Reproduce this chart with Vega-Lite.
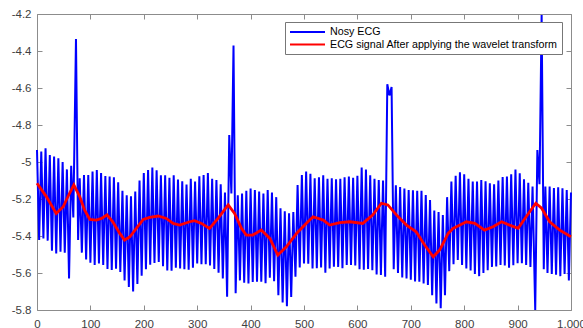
{
  "$schema": "https://vega.github.io/schema/vega-lite/v6.json",
  "width": 534,
  "height": 296,
  "autosize": {"type": "none"},
  "padding": {"left": 37, "top": 14, "right": 12, "bottom": 18},
  "background": "white",
  "config": {
    "view": {"stroke": null},
    "font": "Liberation Sans",
    "axis": {
      "domainColor": "#8c8c8c",
      "tickColor": "#8c8c8c",
      "labelColor": "#404040",
      "labelFont": "Liberation Sans",
      "labelFontSize": 11.5,
      "tickSize": -5,
      "grid": false,
      "title": null
    }
  },
  "datasets": {
    "noisy": [
      {"x":0,"y":-4.935},{"x":4,"y":-5.422},{"x":8,"y":-4.944},{"x":12,"y":-5.413},{"x":16,"y":-4.926},{"x":20,"y":-5.425},{"x":24,"y":-4.962},{"x":28,"y":-5.48},{"x":32,"y":-4.971},{"x":36,"y":-5.495},
      {"x":40,"y":-4.98},{"x":44,"y":-5.485},{"x":48,"y":-5.0},{"x":52,"y":-5.49},{"x":56,"y":-5.04},{"x":60,"y":-5.629},{"x":64,"y":-5.02},{"x":68,"y":-5.3},{"x":73,"y":-4.335},{"x":77,"y":-5.422},
      {"x":80,"y":-5.088},{"x":84,"y":-5.49},{"x":88,"y":-5.07},{"x":92,"y":-5.527},{"x":96,"y":-5.07},{"x":100,"y":-5.545},{"x":104,"y":-5.052},{"x":108,"y":-5.556},{"x":112,"y":-5.043},{"x":116,"y":-5.549},
      {"x":120,"y":-5.06},{"x":124,"y":-5.556},{"x":128,"y":-5.076},{"x":132,"y":-5.578},{"x":136,"y":-5.079},{"x":140,"y":-5.584},{"x":144,"y":-5.082},{"x":148,"y":-5.577},{"x":152,"y":-5.11},{"x":156,"y":-5.595},
      {"x":160,"y":-5.155},{"x":164,"y":-5.64},{"x":168,"y":-5.18},{"x":172,"y":-5.676},{"x":176,"y":-5.185},{"x":180,"y":-5.7},{"x":184,"y":-5.16},{"x":188,"y":-5.66},{"x":192,"y":-5.1},{"x":196,"y":-5.615},
      {"x":200,"y":-5.06},{"x":204,"y":-5.58},{"x":208,"y":-5.043},{"x":212,"y":-5.555},{"x":216,"y":-5.03},{"x":220,"y":-5.546},{"x":224,"y":-5.045},{"x":228,"y":-5.541},{"x":232,"y":-5.072},{"x":236,"y":-5.563},
      {"x":240,"y":-5.072},{"x":244,"y":-5.586},{"x":248,"y":-5.085},{"x":252,"y":-5.588},{"x":256,"y":-5.072},{"x":260,"y":-5.572},{"x":264,"y":-5.095},{"x":268,"y":-5.576},{"x":272,"y":-5.104},{"x":276,"y":-5.58},
      {"x":280,"y":-5.122},{"x":284,"y":-5.582},{"x":288,"y":-5.09},{"x":292,"y":-5.572},{"x":296,"y":-5.105},{"x":300,"y":-5.548},{"x":304,"y":-5.077},{"x":308,"y":-5.552},{"x":312,"y":-5.07},{"x":316,"y":-5.552},
      {"x":320,"y":-5.06},{"x":324,"y":-5.56},{"x":328,"y":-5.09},{"x":332,"y":-5.578},{"x":336,"y":-5.098},{"x":340,"y":-5.598},{"x":344,"y":-5.12},{"x":348,"y":-5.63},{"x":352,"y":-5.165},{"x":356,"y":-5.728},
      {"x":360,"y":-4.854},{"x":364,"y":-5.17},{"x":368,"y":-4.37},{"x":372,"y":-5.71},{"x":376,"y":-5.18},{"x":380,"y":-5.64},{"x":384,"y":-5.17},{"x":388,"y":-5.652},{"x":392,"y":-5.155},{"x":396,"y":-5.656},
      {"x":400,"y":-5.144},{"x":404,"y":-5.649},{"x":408,"y":-5.151},{"x":412,"y":-5.647},{"x":416,"y":-5.16},{"x":420,"y":-5.647},{"x":424,"y":-5.17},{"x":428,"y":-5.655},{"x":432,"y":-5.151},{"x":436,"y":-5.625},
      {"x":440,"y":-5.165},{"x":444,"y":-5.645},{"x":448,"y":-5.19},{"x":452,"y":-5.72},{"x":456,"y":-5.25},{"x":460,"y":-5.76},{"x":464,"y":-5.267},{"x":468,"y":-5.78},{"x":472,"y":-5.277},{"x":476,"y":-5.73},
      {"x":480,"y":-5.27},{"x":484,"y":-5.62},{"x":488,"y":-5.125},{"x":492,"y":-5.57},{"x":496,"y":-5.07},{"x":500,"y":-5.548},{"x":504,"y":-5.052},{"x":508,"y":-5.55},{"x":512,"y":-5.063},{"x":516,"y":-5.575},
      {"x":520,"y":-5.088},{"x":524,"y":-5.574},{"x":528,"y":-5.083},{"x":532,"y":-5.57},{"x":536,"y":-5.072},{"x":540,"y":-5.598},{"x":544,"y":-5.09},{"x":548,"y":-5.575},{"x":552,"y":-5.088},{"x":556,"y":-5.566},
      {"x":560,"y":-5.094},{"x":564,"y":-5.567},{"x":568,"y":-5.09},{"x":572,"y":-5.574},{"x":576,"y":-5.082},{"x":580,"y":-5.557},{"x":584,"y":-5.079},{"x":588,"y":-5.557},{"x":592,"y":-5.085},{"x":596,"y":-5.56},
      {"x":600,"y":-5.075},{"x":604,"y":-5.58},{"x":608,"y":-5.03},{"x":612,"y":-5.582},{"x":616,"y":-5.04},{"x":620,"y":-5.578},{"x":624,"y":-5.072},{"x":628,"y":-5.585},{"x":632,"y":-5.09},{"x":636,"y":-5.608},
      {"x":640,"y":-5.097},{"x":644,"y":-5.611},{"x":648,"y":-5.1},{"x":652,"y":-5.62},{"x":656,"y":-4.58},{"x":660,"y":-4.64},{"x":664,"y":-4.595},{"x":668,"y":-5.58},{"x":672,"y":-5.126},{"x":676,"y":-5.6},
      {"x":680,"y":-5.135},{"x":684,"y":-5.624},{"x":688,"y":-5.144},{"x":692,"y":-5.629},{"x":696,"y":-5.151},{"x":700,"y":-5.637},{"x":704,"y":-5.153},{"x":708,"y":-5.646},{"x":712,"y":-5.155},{"x":716,"y":-5.647},
      {"x":720,"y":-5.155},{"x":724,"y":-5.656},{"x":728,"y":-5.178},{"x":732,"y":-5.665},{"x":736,"y":-5.205},{"x":740,"y":-5.72},{"x":744,"y":-5.262},{"x":748,"y":-5.765},{"x":752,"y":-5.27},{"x":756,"y":-5.79},
      {"x":760,"y":-5.287},{"x":764,"y":-5.72},{"x":768,"y":-5.19},{"x":772,"y":-5.59},{"x":776,"y":-5.105},{"x":780,"y":-5.552},{"x":784,"y":-5.075},{"x":788,"y":-5.53},{"x":792,"y":-5.055},{"x":796,"y":-5.557},
      {"x":800,"y":-5.066},{"x":804,"y":-5.575},{"x":808,"y":-5.09},{"x":812,"y":-5.587},{"x":816,"y":-5.106},{"x":820,"y":-5.605},{"x":824,"y":-5.106},{"x":828,"y":-5.617},{"x":832,"y":-5.097},{"x":836,"y":-5.6},
      {"x":840,"y":-5.104},{"x":844,"y":-5.585},{"x":848,"y":-5.115},{"x":852,"y":-5.567},{"x":856,"y":-5.12},{"x":860,"y":-5.565},{"x":864,"y":-5.1},{"x":868,"y":-5.556},{"x":872,"y":-5.081},{"x":876,"y":-5.56},
      {"x":880,"y":-5.079},{"x":884,"y":-5.572},{"x":888,"y":-5.067},{"x":892,"y":-5.558},{"x":896,"y":-5.04},{"x":900,"y":-5.547},{"x":904,"y":-5.061},{"x":908,"y":-5.547},{"x":912,"y":-5.093},{"x":916,"y":-5.556},
      {"x":920,"y":-5.112},{"x":924,"y":-5.567},{"x":928,"y":-5.133},{"x":933,"y":-5.8},{"x":937,"y":-4.935},{"x":941,"y":-5.12},{"x":945,"y":-4.205},{"x":949,"y":-5.58},{"x":952,"y":-5.133},{"x":956,"y":-5.6},
      {"x":960,"y":-5.133},{"x":964,"y":-5.605},{"x":968,"y":-5.14},{"x":972,"y":-5.61},{"x":976,"y":-5.137},{"x":980,"y":-5.617},{"x":984,"y":-5.142},{"x":988,"y":-5.605},{"x":992,"y":-5.151},{"x":996,"y":-5.64},
      {"x":1000,"y":-5.165}
    ],
    "clean": [
      {"x":0,"y":-5.115},{"x":17.5,"y":-5.187},{"x":36,"y":-5.278},{"x":49,"y":-5.242},{"x":61,"y":-5.169},{"x":69,"y":-5.124},{"x":80,"y":-5.187},{"x":89,"y":-5.259},{"x":99,"y":-5.31},{"x":111,"y":-5.314},
      {"x":121,"y":-5.305},{"x":131,"y":-5.286},{"x":142,"y":-5.323},{"x":155,"y":-5.386},{"x":164,"y":-5.422},{"x":174,"y":-5.404},{"x":186,"y":-5.359},{"x":199,"y":-5.31},{"x":211,"y":-5.299},{"x":227,"y":-5.292},
      {"x":242,"y":-5.305},{"x":255,"y":-5.332},{"x":267,"y":-5.341},{"x":286,"y":-5.323},{"x":295,"y":-5.317},{"x":308,"y":-5.332},{"x":323,"y":-5.359},{"x":339,"y":-5.305},{"x":358,"y":-5.232},{"x":370,"y":-5.278},
      {"x":383,"y":-5.359},{"x":392,"y":-5.395},{"x":404,"y":-5.395},{"x":420,"y":-5.368},{"x":436,"y":-5.413},{"x":451,"y":-5.503},{"x":467,"y":-5.458},{"x":486,"y":-5.386},{"x":504,"y":-5.332},{"x":517,"y":-5.296},
      {"x":536,"y":-5.314},{"x":548,"y":-5.341},{"x":567,"y":-5.328},{"x":586,"y":-5.323},{"x":610,"y":-5.332},{"x":629,"y":-5.286},{"x":645,"y":-5.223},{"x":657,"y":-5.232},{"x":673,"y":-5.286},{"x":692,"y":-5.341},
      {"x":710,"y":-5.377},{"x":726,"y":-5.449},{"x":742,"y":-5.512},{"x":754,"y":-5.476},{"x":770,"y":-5.386},{"x":779,"y":-5.359},{"x":792,"y":-5.341},{"x":804,"y":-5.323},{"x":820,"y":-5.332},{"x":838,"y":-5.368},
      {"x":854,"y":-5.35},{"x":870,"y":-5.323},{"x":885,"y":-5.341},{"x":901,"y":-5.359},{"x":916,"y":-5.296},{"x":934,"y":-5.223},{"x":945,"y":-5.25},{"x":960,"y":-5.323},{"x":979,"y":-5.368},{"x":1000,"y":-5.404}
    ]
  },
  "layer": [
    {
      "data": {"name": "noisy"},
      "mark": {"type": "line", "strokeWidth": 2, "interpolate": "linear"},
      "encoding": {
        "x": {"field": "x", "type": "quantitative",
              "scale": {"domain": [0, 1000], "nice": false},
              "axis": {"orient": "bottom", "values": [0,100,200,300,400,500,600,700,800,900,1000], "labelPadding": 13, "labelFlush": false}},
        "y": {"field": "y", "type": "quantitative",
              "scale": {"domain": [-5.8, -4.2], "nice": false, "zero": false},
              "axis": {"orient": "left", "values": [-5.8,-5.6,-5.4,-5.2,-5,-4.8,-4.6,-4.4,-4.2], "labelExpr": "'' + datum.value", "labelPadding": 11}},
        "color": {"datum": "Nosy ECG", "type": "nominal",
                  "scale": {"domain": ["Nosy ECG", "ECG signal After applying the wavelet transform"], "range": ["#0000ff", "#ff0000"]},
                  "legend": {"orient": "none", "legendX": 248, "legendY": 8, "title": null,
                             "symbolType": "M-1,0H6", "symbolSize": 100, "symbolStrokeWidth": 2,
                             "labelFont": "Liberation Sans", "labelFontSize": 10.7, "labelColor": "#000000",
                             "labelLimit": 400, "labelOffset": 29, "strokeColor": "#777777", "fillColor": "#ffffff",
                             "padding": 4, "rowPadding": 1.5}}
      }
    },
    {
      "data": {"name": "clean"},
      "mark": {"type": "line", "strokeWidth": 2.8},
      "encoding": {
        "x": {"field": "x", "type": "quantitative",
              "axis": {"orient": "top", "values": [0,100,200,300,400,500,600,700,800,900,1000], "labels": false}},
        "y": {"field": "y", "type": "quantitative",
              "axis": {"orient": "right", "values": [-5.8,-5.6,-5.4,-5.2,-5,-4.8,-4.6,-4.4,-4.2], "labels": false}},
        "color": {"datum": "ECG signal After applying the wavelet transform", "type": "nominal"}
      }
    }
  ],
  "resolve": {"axis": {"x": "independent", "y": "independent"}}
}
